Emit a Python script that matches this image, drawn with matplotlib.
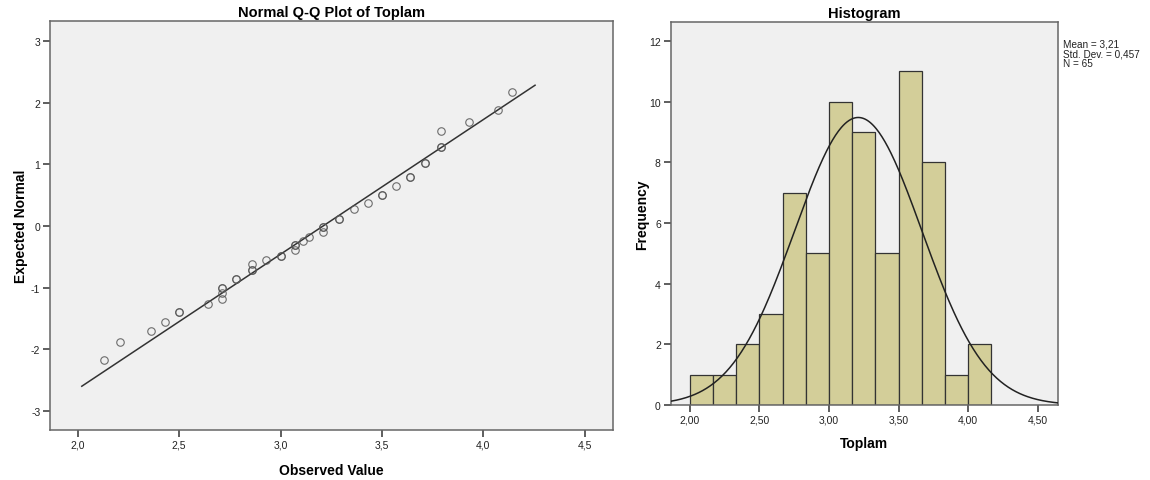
import numpy as np
import matplotlib
matplotlib.use('Agg')
import matplotlib.pyplot as plt
from matplotlib.ticker import FuncFormatter

plt.rcParams['font.family'] = ['Liberation Sans', 'DejaVu Sans']

#=====================================================
#    Toplam: summary statistics
mean_toplam = 3.21
sd_toplam = 0.457
n_toplam = 65

# Q-Q points (observed value, expected normal, how many cases sit on the point)
qq_observed = [2.13, 2.21, 2.36, 2.43, 2.50, 2.64, 2.71, 2.71, 2.71, 2.78, 2.86, 2.86,
               2.93, 3.00, 3.07, 3.07, 3.11, 3.14, 3.21, 3.21, 3.29, 3.36, 3.43, 3.50,
               3.57, 3.64, 3.71, 3.79, 3.79, 3.93, 4.07, 4.14]
qq_expected = [-2.18, -1.89, -1.70, -1.56, -1.39, -1.26, -1.18, -1.09, -1.00, -0.86, -0.71, -0.61,
               -0.56, -0.48, -0.39, -0.31, -0.24, -0.18, -0.10, -0.02, 0.11, 0.27, 0.37, 0.51,
               0.65, 0.80, 1.03, 1.29, 1.55, 1.69, 1.88, 2.17]
qq_count = [1, 1, 1, 1, 2, 1, 1, 1, 2, 2, 2, 1,
            1, 2, 1, 2, 1, 1, 1, 2, 2, 1, 1, 2,
            1, 2, 2, 2, 1, 1, 1, 1]
qq_line_x = [2.02, 4.255]

# histogram of Toplam
hist_edges = [2.000, 2.167, 2.333, 2.500, 2.667, 2.833, 3.000, 3.167,
              3.333, 3.500, 3.667, 3.833, 4.000, 4.167]
hist_counts = [1, 1, 2, 3, 7, 5, 10, 9, 5, 11, 8, 1, 2]

#=====================================================

bg = '#f0f0f0'
spine_col = '#666666'
comma = lambda fmt: FuncFormatter(lambda v, p: (fmt % v).replace('.', ','))


def style_axes(ax):
    ax.set_facecolor(bg)
    for s in ax.spines.values():
        s.set_color(spine_col)
        s.set_linewidth(1.1)
    ax.tick_params(direction='out', length=5, width=1.1, color='#333333',
                   labelsize=7.5, pad=2, labelcolor='#222222')


fig = plt.figure(figsize=(11.5, 4.81), dpi=100)

# --- Normal Q-Q plot
ax1 = fig.add_axes([0.0435, 0.1046, 0.4893, 0.849])
style_axes(ax1)
ax1.set_xlim(1.8634, 4.638)
ax1.set_ylim(-3.31, 3.325)
ax1.set_xticks([2.0, 2.5, 3.0, 3.5, 4.0, 4.5])
ax1.set_yticks([-3, -2, -1, 0, 1, 2, 3])
ax1.xaxis.set_major_formatter(comma('%.1f'))
ax1.yaxis.set_major_formatter(FuncFormatter(lambda v, p: '%d' % v))

line_x = np.array(qq_line_x)
ax1.plot(line_x, (line_x - mean_toplam) / sd_toplam, color='#333333', lw=1.1, zorder=2)
for xo, ye, c in zip(qq_observed, qq_expected, qq_count):
    for k in range(c):
        ax1.plot(xo, ye, 'o', ms=5.4, mfc='none', mec='#555555', mew=0.8, alpha=0.85, zorder=3)

ax1.set_title('Normal Q-Q Plot of Toplam', fontsize=10.5, fontweight='bold', pad=4)
ax1.set_xlabel('Observed Value', fontsize=10, fontweight='bold', labelpad=10)
ax1.set_ylabel('Expected Normal', fontsize=10, fontweight='bold', labelpad=2)

# --- histogram with normal curve
ax2 = fig.add_axes([0.5831, 0.156, 0.3367, 0.796])
style_axes(ax2)
ax2.set_xlim(1.861, 4.644)
ax2.set_ylim(0, 12.62)
ax2.set_xticks([2.0, 2.5, 3.0, 3.5, 4.0, 4.5])
ax2.set_yticks([0, 2, 4, 6, 8, 10, 12])
ax2.xaxis.set_major_formatter(comma('%.2f'))

edges = np.array(hist_edges)
ax2.bar(edges[:-1], hist_counts, width=np.diff(edges), align='edge',
        color='#d3ce99', edgecolor='#333333', linewidth=0.9, zorder=2)

xx = np.linspace(1.861, 4.644, 400)
bw = edges[1] - edges[0]
yy = n_toplam * bw * np.exp(-0.5 * ((xx - mean_toplam) / sd_toplam) ** 2) / (sd_toplam * np.sqrt(2 * np.pi))
ax2.plot(xx, yy, color='#222222', lw=1.1, zorder=3)

ax2.set_title('Histogram', fontsize=10.5, fontweight='bold', pad=4)
ax2.set_xlabel('Toplam', fontsize=10, fontweight='bold', labelpad=8)
ax2.set_ylabel('Frequency', fontsize=10, fontweight='bold', labelpad=0)

stats = 'Mean = %s\nStd. Dev. = %s\nN = %d' % (('%.2f' % mean_toplam).replace('.', ','),
                                               ('%.3f' % sd_toplam).replace('.', ','), n_toplam)
fig.text(0.9245, 0.918, stats, fontsize=7.2, va='top', ha='left', linespacing=0.95, color='#222222')

fig.savefig('out.png', dpi=100, facecolor='white')
